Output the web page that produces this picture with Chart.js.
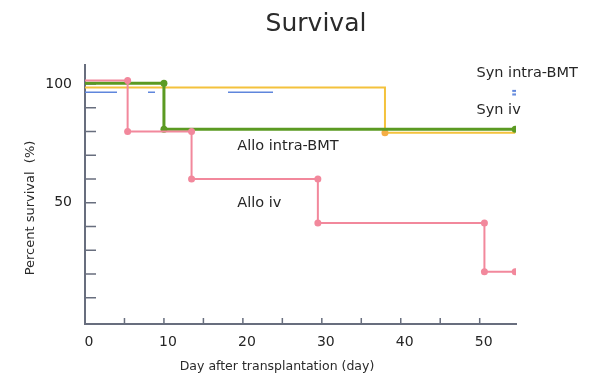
<!DOCTYPE html>
<html lang="en">
  <head>
    <meta charset="UTF-8" />
    <title>Survival</title>
    <script src="https://cdn.jsdelivr.net/npm/chart.js"></script>
    <style>
      body { margin: 0; background: #fff; }
      .chart-card { width: 593px; height: 374px; position: relative; }
    </style>
  </head>
  <body>
    <div class="chart-card">
      <canvas id="survivalChart"></canvas>
    </div>

    <script>
      // Kaplan-Meier steps: day of each drop and survival (%) after it
      const alloIvDays = [0, 5.4, 13.5, 29.5, 50.6, 54.5];
      const alloIvSurv = [101.5, 80, 60, 41.5, 21, 21];

      const alloBmtDays = [0, 10, 54.5];
      const alloBmtSurv = [100.3, 81, 81];

      const synIvDays = [0, 38, 54.5];
      const synIvSurv = [98.5, 79.5, 79.5];

      const synBmtDays = [0, 54.5];
      const synBmtSurv = [96.5, 96.5];

      // axis ticks
      const xTickLabels = [0, 10, 20, 30, 40, 50];
      const xTickMarks = [5, 10, 15, 20, 25, 30, 35, 40, 45, 50];
      const yTickLabels = [50, 100];
      const yTickMarks = [10, 20, 30, 40, 50, 60, 70, 80, 90, 100];

      // series labels written on the plot: [text, day, survival]
      const seriesLabels = [
        ['Syn intra-BMT', 49.6, 104.5],
        ['Syn iv', 49.6, 89],
        ['Allo intra-BMT', 19.3, 74],
        ['Allo iv', 19.3, 49.8]
      ];

      const FONT = '"DejaVu Sans", Verdana, sans-serif';
      const AXIS = '#686e7e';

      // the "=" mark at the end of the Syn intra-BMT line
      const eqMark = document.createElement('canvas');
      eqMark.width = 8; eqMark.height = 7;
      (function () {
        const c = eqMark.getContext('2d');
        c.fillStyle = '#5f86dc';
        c.fillRect(1, 1, 6, 2);
        c.fillRect(1, 4.5, 6, 2);
      })();

      // turn drop days into corner points; flag which corners get a dot
      function stepPoints(days, surv, marks) {
        const pts = [{ x: days[0], y: surv[0], dot: false }];
        for (let i = 1; i < days.length; i++) {
          const prev = surv[i - 1];
          if (surv[i] !== prev) {
            pts.push({ x: days[i], y: prev, dot: marks === 'corners' });
            pts.push({ x: days[i], y: surv[i], dot: marks === 'corners' || marks === 'bottom' });
          } else {
            pts.push({ x: days[i], y: surv[i], dot: marks === 'corners' || marks === 'end' });
          }
        }
        return pts;
      }

      function makeSet(label, days, surv, marks, color, width, extra) {
        const pts = stepPoints(days, surv, marks);
        return Object.assign({
          label: label,
          data: pts,
          borderColor: color,
          backgroundColor: color,
          borderWidth: width,
          pointRadius: pts.map(p => (p.dot ? 3.5 : 0)),
          pointBorderWidth: 0,
          tension: 0,
          fill: false
        }, extra || {});
      }

      const datasets = [
        makeSet('Allo iv', alloIvDays, alloIvSurv, 'corners', '#f2889c', 2),
        makeSet('Allo intra-BMT', alloBmtDays, alloBmtSurv, 'corners', '#5b9a22', 3),
        makeSet('Syn iv', synIvDays, synIvSurv, 'bottom', '#f4c23c', 2, { pointBackgroundColor: '#f5ad45' }),
        makeSet('Syn intra-BMT', synBmtDays, synBmtSurv, 'end', '#5f86dc', 1.5, {
          borderDash: [32, 31, 7, 73, 45, 1000],
          pointStyle: eqMark,
          pointRadius: [0, 4]
        })
      ];

      // inward tick marks, series labels and titles
      const decorPlugin = {
        id: 'decor',
        beforeDatasetsDraw(chart) {
          const ctx = chart.ctx;
          const xs = chart.scales.x, ys = chart.scales.y;
          ctx.save();
          ctx.strokeStyle = AXIS;
          ctx.lineWidth = 1.5;
          ctx.beginPath();
          xTickMarks.forEach(v => {
            const px = xs.getPixelForValue(v);
            ctx.moveTo(px, ys.bottom);
            ctx.lineTo(px, ys.bottom - 6);
          });
          yTickMarks.forEach(v => {
            const py = ys.getPixelForValue(v);
            ctx.moveTo(xs.left, py);
            ctx.lineTo(xs.left + 11, py);
          });
          ctx.stroke();
          ctx.restore();
        },
        afterDraw(chart) {
          const ctx = chart.ctx;
          const xs = chart.scales.x, ys = chart.scales.y;
          ctx.save();
          ctx.fillStyle = '#262626';
          ctx.textBaseline = 'middle';
          ctx.textAlign = 'left';
          ctx.font = '14.5px ' + FONT;
          seriesLabels.forEach(([t, d, s]) => {
            ctx.fillText(t, xs.getPixelForValue(d), ys.getPixelForValue(s));
          });

          ctx.textAlign = 'center';
          ctx.font = '25px ' + FONT;
          ctx.fillStyle = '#2a2a2a';
          ctx.fillText('Survival', 316, 24);

          ctx.font = '12.5px ' + FONT;
          ctx.fillText('Day after transplantation (day)', 277, 367);

          ctx.translate(31, 208);
          ctx.rotate(-Math.PI / 2);
          ctx.font = '13px ' + FONT;
          ctx.fillText('Percent survival  (%)', 0, 0);
          ctx.restore();
        }
      };

      new Chart(document.getElementById('survivalChart'), {
        type: 'line',
        data: { datasets: datasets },
        options: {
          responsive: true,
          maintainAspectRatio: false,
          animation: false,
          layout: { padding: { top: 65, right: 77, left: 0, bottom: 0 } },
          plugins: {
            legend: { display: false },
            tooltip: { enabled: false }
          },
          scales: {
            x: {
              type: 'linear',
              min: 0,
              max: 54.6,
              afterFit(scale) { scale.height = 50; },
              afterBuildTicks(scale) { scale.ticks = xTickLabels.map(v => ({ value: v })); },
              grid: { display: false, drawTicks: false },
              border: { display: true, color: AXIS, width: 2 },
              ticks: { padding: 10, labelOffset: 4, color: '#262626', font: { family: FONT, size: 14 }, maxRotation: 0 }
            },
            y: {
              min: -1,
              max: 108,
              afterFit(scale) { scale.width = 85; },
              afterBuildTicks(scale) { scale.ticks = yTickLabels.map(v => ({ value: v })); },
              grid: { display: false, drawTicks: false },
              border: { display: true, color: AXIS, width: 2 },
              ticks: { padding: 13, color: '#222', font: { family: FONT, size: 14 } }
            }
          }
        },
        plugins: [decorPlugin]
      });
    </script>
  </body>
</html>
